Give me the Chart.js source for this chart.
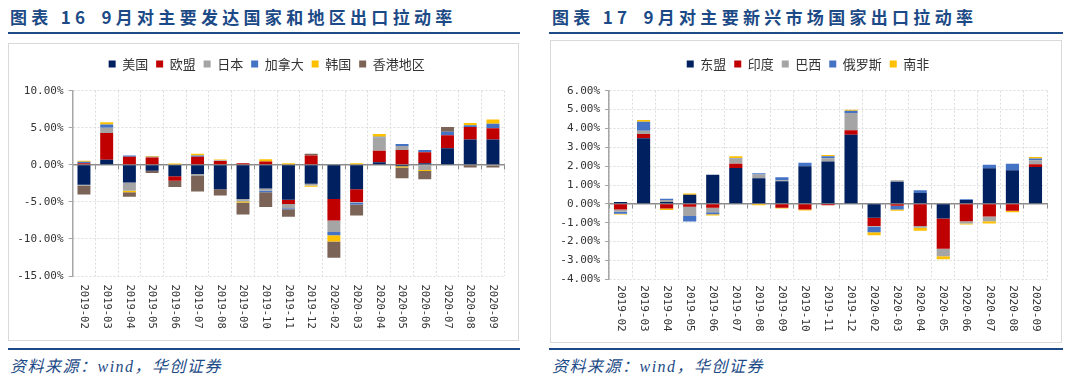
<!DOCTYPE html>
<html><head><meta charset="utf-8">
<script src="https://cdn.jsdelivr.net/npm/chart.js@4/dist/chart.umd.min.js"></script>
<style>
html,body{margin:0;padding:0;background:#fff;}
body{width:1076px;height:378px;position:relative;overflow:hidden;}
.title{position:absolute;font-family:"Noto Sans CJK SC",sans-serif;font-weight:700;font-size:17px;letter-spacing:4.3px;color:#1c4a86;line-height:20px;white-space:nowrap;}
.rule{position:absolute;height:2px;background:#1c4a86;}
.box{position:absolute;border:1px solid #d9d9d9;box-sizing:border-box;}
.src{position:absolute;font-family:"Liberation Serif","Noto Sans CJK SC",serif;font-style:italic;font-size:16px;letter-spacing:1.5px;color:#1c4a86;line-height:20px;white-space:nowrap;}
canvas{position:absolute;}
</style></head>
<body>
<div class="title" style="left:10px;top:7px">图表 16<span style="display:inline-block;width:12px"></span>9月对主要发达国家和地区出口拉动率</div>
<div class="rule" style="left:8px;top:32px;width:512px"></div>
<div class="box" style="left:8px;top:43px;width:511px;height:298px"></div>
<canvas id="c1" width="511" height="298" style="left:8px;top:43px"></canvas>
<div class="rule" style="left:8px;top:348px;width:512px"></div>
<div class="src" style="left:10px;top:357px">资料来源：wind，华创证券</div>

<div class="title" style="left:552px;top:7px">图表 17<span style="display:inline-block;width:12px"></span>9月对主要新兴市场国家出口拉动率</div>
<div class="rule" style="left:549px;top:32px;width:514px"></div>
<div class="box" style="left:550px;top:40px;width:512px;height:303px"></div>
<canvas id="c2" width="512" height="303" style="left:550px;top:40px"></canvas>
<div class="rule" style="left:549px;top:348px;width:514px"></div>
<div class="src" style="left:552px;top:357px">资料来源：wind，华创证券</div>

<script>
// ---- data ----
const months = ['2019-02','2019-03','2019-04','2019-05','2019-06','2019-07','2019-08','2019-09','2019-10','2019-11','2019-12','2020-02','2020-03','2020-04','2020-05','2020-06','2020-07','2020-08','2020-09'];

// Chart 16 (developed economies), percentage points
const devNames = ['美国','欧盟','日本','加拿大','韩国','香港地区'];
const usa   = [-2.7, 0.7, -2.4, -0.8, -1.55, -1.25, -3.3, -4.6, -3.2, -4.7, -2.55, -4.6, -3.3, 0.35, -0.2, 0.2, 2.25, 3.4, 3.4];
const eu    = [0.2, 3.6, 1.1, 1.0, -0.6, 1.1, 0.5, 0.2, 0.45, -0.6, 1.25, -2.9, -1.7, 1.55, 2.0, 1.5, 1.75, 1.7, 1.55];
const japan = [-0.1, 0.7, -1.1, 0.05, 0.05, -0.25, 0.12, -0.2, -0.3, -0.55, -0.25, -1.55, -0.1, 1.8, 0.55, -0.7, 0, 0, -0.1];
const canada= [0.2, 0.45, 0.15, 0.05, 0, 0.15, 0, -0.1, -0.2, -0.15, 0, -0.45, -0.25, 0.1, 0.25, 0.3, 0.45, 0.25, 0.6];
const korea = [0.15, 0.3, -0.2, 0.1, 0.12, 0.25, 0.1, -0.2, 0.3, 0.2, -0.15, -0.85, 0.2, 0.35, -0.15, -0.15, 0, 0.3, 0.55];
const hk    = [-1.2, 0, -0.6, -0.3, -0.85, -2.1, -0.85, -1.6, -2.0, -1.0, 0.25, -2.2, -1.5, 0, -1.45, -1.1, 0.65, -0.35, -0.25];
const devTicks = {min:-15, max:10, step:5};

// Chart 17 (emerging markets), percentage points
const emNames = ['东盟','印度','巴西','俄罗斯','南非'];
const asean  = [0.1, 3.48, 0.1, 0.48, 1.55, 1.9, 1.36, 1.2, 2.0, 2.24, 3.67, -0.74, 1.17, 0.58, -0.78, 0.2, 1.89, 1.78, 1.96];
const india  = [-0.3, 0.23, -0.25, -0.15, -0.2, 0.23, 0, -0.2, -0.3, -0.08, 0.23, -0.44, -0.1, -1.17, -1.6, -0.92, -0.67, -0.37, 0.14];
const brazil = [-0.12, 0.16, 0.1, -0.5, -0.25, 0.27, 0.2, 0.05, 0, 0.18, 0.92, -0.04, 0.08, -0.1, -0.4, -0.12, -0.25, 0, 0.21];
const russia = [-0.1, 0.48, 0.07, -0.28, -0.1, 0.03, 0.06, 0.16, 0.18, 0.1, 0.12, -0.28, -0.2, 0.14, 0, 0.05, 0.18, 0.35, 0.1];
const safrica= [-0.05, 0.1, -0.07, 0.07, -0.07, 0.1, -0.07, -0.04, -0.05, 0.07, 0.05, -0.17, -0.07, -0.16, -0.16, -0.05, -0.12, -0.07, 0.07];
const emTicks = {min:-4, max:6, step:1};

// ---- styling ----
const C = {navy:'#002060', red:'#C00000', gray:'#A5A5A5', blue:'#4472C4', yellow:'#FFC000', brown:'#7B6457'};
const monoFont = '"DejaVu Sans Mono", "Liberation Mono", monospace';
const cjkFont = '"Noto Sans CJK SC", sans-serif';

function legendTweak(extra, dx){
  return {id:'legendTweak', beforeInit(chart){
    const lg = chart.legend;
    const fit = lg.fit;
    lg.fit = function(){ fit.call(this); this.height += extra; };
    const draw = lg.draw;
    lg.draw = function(){
      const l = this.left, r = this.right;
      this.left = l + dx; this.right = r + dx;
      draw.call(this);
      this.left = l; this.right = r;
    };
  }};
}
function xLabels(offset, size){
  return {id:'xLabels', afterDraw(chart){
    const {ctx, chartArea} = chart; const x = chart.scales.x;
    ctx.save();
    ctx.font = size + 'px ' + monoFont; ctx.fillStyle = '#333';
    ctx.textAlign = 'left'; ctx.textBaseline = 'middle';
    chart.data.labels.forEach((lab, i) => {
      ctx.save(); ctx.translate(x.getPixelForValue(i), chartArea.bottom + offset);
      ctx.rotate(Math.PI/2); ctx.fillText(lab, 0, 0); ctx.restore();
    });
    ctx.restore();
  }};
}
function makeChart(id, names, series, colors, ticks, lay){
  return new Chart(document.getElementById(id), {
    type:'bar',
    data:{labels: months, datasets: names.map((n,i)=>({label:n, data:series[i], backgroundColor:colors[i], borderWidth:0}))},
    options:{
      responsive:false, animation:false, devicePixelRatio:1,
      layout:{padding:{left:0, right:lay.padR, top:lay.padT, bottom:lay.padB}},
      datasets:{bar:{barPercentage:0.57, categoryPercentage:1}},
      plugins:{
        legend:{position:'top', labels:{boxWidth:7, boxHeight:7, padding:8, color:'#333', font:{family:cjkFont, size:13}}},
        tooltip:{enabled:false}
      },
      scales:{
        x:{stacked:true, position:{y:0}, ticks:{display:false},
           grid:{color:'#dcdcdc', offset:true, tickColor:'#8c8c8c', tickLength:4, tickWidth:1},
           border:{color:'#8c8c8c', width:1.5, dash:[2,2]}},
        y:{stacked:true, min:ticks.min, max:ticks.max,
           ticks:{stepSize:ticks.step, padding:5, color:'#333', font:{family:monoFont, size:11},
                  callback:v=>v.toFixed(2)+'%'},
           grid:{color:c=>c.tick && c.tick.value===0 ? 'rgba(0,0,0,0)' : '#dcdcdc', tickColor:'#a6a6a6', tickLength:4},
           border:{color:'#a6a6a6', width:1.5, dash:[2,2]},
           afterFit:s=>{ s.width = lay.yW; }}
      }
    },
    plugins:[legendTweak(lay.gap, lay.dx), xLabels(lay.xOff, lay.xSize)]
  });
}

makeChart('c1', devNames, [usa, eu, japan, canada, korea, hk],
  [C.navy, C.red, C.gray, C.blue, C.yellow, C.brown], devTicks,
  {padR:14.7, padT:6.5, padB:65, yW:64.6, gap:10.2, dx:10.5, xOff:8.5, xSize:10.5});
makeChart('c2', emNames, [asean, india, brazil, russia, safrica],
  [C.navy, C.red, C.gray, C.blue, C.yellow], emTicks,
  {padR:15, padT:9.5, padB:63.7, yW:59, gap:10.2, dx:9.5, xOff:6, xSize:11});
</script>
</body></html>
